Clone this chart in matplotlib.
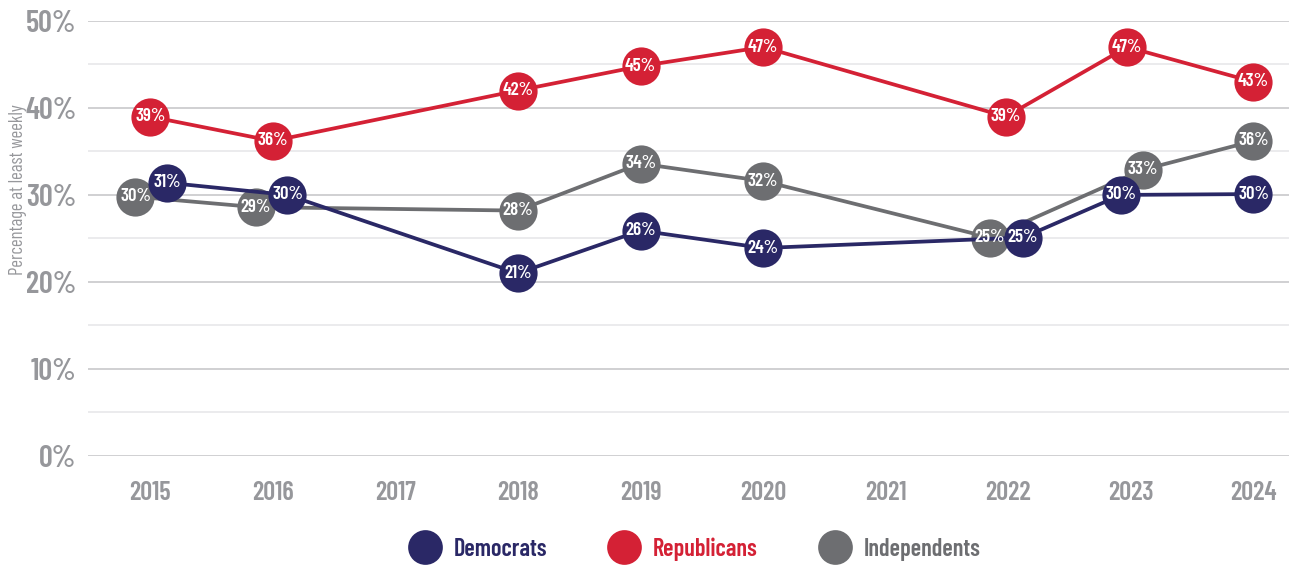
import matplotlib
matplotlib.use("Agg")
import matplotlib.pyplot as plt
from matplotlib.ticker import MultipleLocator, FuncFormatter

years = [2015, 2016, 2018, 2019, 2020, 2022, 2023, 2024]
tick_years = list(range(2015, 2025))

democrats = [31.4, 30.0, 21.0, 25.9, 23.9, 25.1, 30.0, 30.1]
republicans = [39.0, 36.2, 42.0, 44.8, 47.0, 39.0, 47.0, 43.0]
independents = [29.8, 28.6, 28.2, 33.6, 31.6, 25.1, 32.9, 36.2]

# small sideways nudges so overlapping circles stay readable
dem_shift = [0.14, 0.12, 0, 0, 0, 0.12, -0.08, 0]
ind_shift = [-0.12, -0.14, 0, 0, 0, -0.15, 0.1, 0]
rep_shift = [0, 0, 0, 0, 0, -0.02, -0.03, 0]

plt.rcParams["font.family"] = ["Barlow Condensed", "DejaVu Sans"]
plt.rcParams["font.stretch"] = "condensed"

NAVY = "#2a2866"
RED = "#d42135"
GREY = "#6d6e71"
TICK = "#96979b"

fig = plt.figure(figsize=(12.89, 5.65), dpi=100)
ax = fig.add_axes([0.068, 0.193, 0.932, 0.77])

series = [
    ("Independents", independents, ind_shift, GREY),
    ("Democrats", democrats, dem_shift, NAVY),
    ("Republicans", republicans, rep_shift, RED),
]
for i, (name, vals, shift, col) in enumerate(series):
    xs = [y + s for y, s in zip(years, shift)]
    ax.plot(xs, vals, color=col, lw=2.7, marker="o", ms=27.5, mfc=col, mec="none",
            zorder=3 + i, label=name)
    # value labels sit above every circle
    for x, v in zip(xs, vals):
        ax.text(x, v, f"{round(v)}%", color="white", ha="center", va="center",
                fontsize=13.5, fontweight="semibold", zorder=10)

ax.set_xlim(2014.49, 2024.29)
ax.set_ylim(0, 50)
ax.set_xticks(tick_years)
ax.yaxis.set_major_locator(MultipleLocator(10))
ax.yaxis.set_minor_locator(MultipleLocator(5))
ax.yaxis.set_major_formatter(FuncFormatter(lambda v, p: f"{v:.0f}%"))
ax.grid(axis="y", which="major", color="#c4c4c6", lw=1.1)
ax.grid(axis="y", which="minor", color="#e6e6e8", lw=1.1)
ax.set_axisbelow(True)
for sp in ax.spines.values():
    sp.set_visible(False)
ax.tick_params(axis="both", which="both", length=0, colors=TICK)
ax.tick_params(axis="y", labelsize=22, pad=8)
ax.tick_params(axis="x", labelsize=19, pad=18)
for lab in ax.get_xticklabels() + ax.get_yticklabels():
    lab.set_fontweight("semibold")

fig.text(0.014, 0.665, "Percentage at least weekly", rotation=90, ha="center",
         va="center", color=TICK, fontsize=13.5)

handles, labels = ax.get_legend_handles_labels()
order = [1, 2, 0]
leg = fig.legend([plt.Line2D([], [], ls="none", marker="o", ms=25, mfc=handles[k].get_color(),
                             mec="none") for k in order],
                 [labels[k] for k in order], loc="center", bbox_to_anchor=(0.539, 0.028),
                 ncol=3, frameon=False, fontsize=17.5, handlelength=1.3, handletextpad=0.55,
                 columnspacing=2.5, labelcolor="markerfacecolor")
for t in leg.get_texts():
    t.set_fontweight("semibold")

fig.savefig("out.png", dpi=100)
